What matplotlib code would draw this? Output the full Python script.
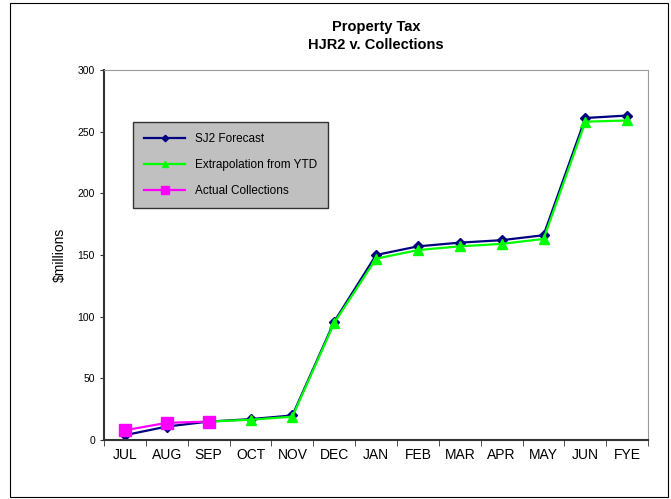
import matplotlib.pyplot as plt
from matplotlib.patches import Rectangle
import numpy as np

plt.rcParams['font.family'] = ['Liberation Sans', 'DejaVu Sans']

months = ['JUL', 'AUG', 'SEP', 'OCT', 'NOV', 'DEC', 'JAN', 'FEB', 'MAR', 'APR', 'MAY', 'JUN', 'FYE']
sj2 = [4, 11, 15, 17, 20, 96, 150, 157, 160, 162, 166, 261, 263]
extrap = [None, None, 15, 16.5, 19, 95, 147, 154, 157, 159, 163, 258, 259]
actual = [8, 14, 15]

fig = plt.figure(figsize=(6.71, 4.99), dpi=100)
ax = fig.add_axes([0.155, 0.118, 0.811, 0.742])

x = np.arange(len(months))
ext = np.array([np.nan if v is None else v for v in extrap], dtype=float)

ax.plot(x, sj2, color='#000080', marker='D', ms=5, lw=1.6, label='SJ2 Forecast')
ax.plot(x, ext, color='#00ff00', marker='^', ms=7, lw=1.6, label='Extrapolation from YTD')
ax.plot(x[:len(actual)], actual, color='#ff00ff', marker='s', ms=8, lw=1.6, label='Actual Collections')

ax.set_xlim(-0.5, len(months) - 0.5)
ax.set_ylim(0, 300)
ax.set_yticks(range(0, 301, 50))
ax.tick_params(axis='y', labelsize=7.5, length=3, direction='out', color='#333333')

# category ticks sit between months, labels under the points
ax.set_xticks(x)
ax.set_xticklabels(months, fontsize=10)
ax.set_xticks(np.arange(-0.5, len(months), 1), minor=True)
ax.tick_params(axis='x', which='major', length=0, pad=6)
ax.tick_params(axis='x', which='minor', length=4, direction='out', color='#333333')

for side in ['top', 'right']:
    ax.spines[side].set_color('#999999')
for side in ['left', 'bottom']:
    ax.spines[side].set_color('#333333')
    ax.spines[side].set_linewidth(1.5)

ax.set_ylabel('\\$millions', fontsize=10, labelpad=8)
ax.set_title('Property Tax\nHJR2 v. Collections', fontsize=10.5, fontweight='bold', pad=15, linespacing=1.35)

leg = ax.legend(loc='upper left', bbox_to_anchor=(0.053, 0.86), fontsize=8.5, frameon=True,
                fancybox=False, borderpad=0.95, labelspacing=1.2, handlelength=3.5,
                borderaxespad=0, markerscale=0.65)
leg.get_frame().set_facecolor('#c0c0c0')
leg.get_frame().set_edgecolor('#333333')
leg.get_frame().set_alpha(1)

fig.patches.append(Rectangle((10 / 671, 2 / 499), 658 / 671, 494 / 499, transform=fig.transFigure,
                             fill=False, edgecolor='black', lw=0.8))

fig.savefig('out.png', dpi=100)
